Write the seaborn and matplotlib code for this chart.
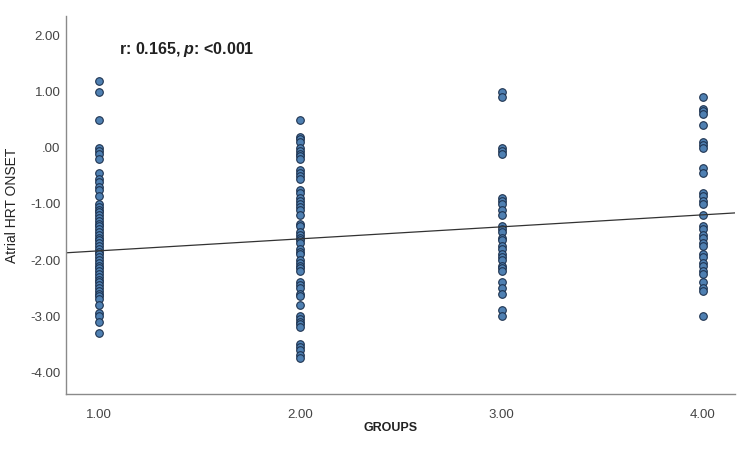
import numpy as np
import pandas as pd
import matplotlib
matplotlib.use('Agg')
import matplotlib.pyplot as plt
import seaborn as sns

# Values (Atrial HRT onset per group)
group1 = [1.2, 1.0, 0.5, 0.0, -0.05, -0.1, -0.2,
          -0.45, -0.55, -0.6, -0.7, -0.75, -0.85,
          -1.0, -1.05, -1.1, -1.15, -1.2, -1.25, -1.3, -1.35, -1.4, -1.45,
          -1.5, -1.55, -1.6, -1.65, -1.7, -1.75, -1.8, -1.85, -1.9, -1.95,
          -2.0, -2.05, -2.1, -2.15, -2.2, -2.25, -2.3, -2.35, -2.4, -2.45,
          -2.5, -2.55, -2.6, -2.65, -2.7, -2.8,
          -2.95, -3.0, -3.1, -3.3]
group2 = [0.5, 0.2, 0.15, 0.1, 0.0, -0.05, -0.1, -0.15, -0.2,
          -0.4, -0.45, -0.5, -0.55,
          -0.75, -0.8, -0.9, -0.95, -1.0, -1.05, -1.1, -1.2,
          -1.35, -1.4, -1.5, -1.55, -1.6, -1.65, -1.7, -1.8, -1.85, -1.9,
          -2.0, -2.05, -2.1, -2.15, -2.2,
          -2.4, -2.45, -2.5, -2.6, -2.65, -2.8,
          -3.0, -3.05, -3.1, -3.15, -3.2,
          -3.5, -3.55, -3.6, -3.7, -3.75]
group3 = [1.0, 0.9, 0.0, -0.05, -0.1,
          -0.9, -0.95, -1.0, -1.1, -1.2,
          -1.4, -1.45, -1.5, -1.6, -1.65, -1.75, -1.8, -1.9, -1.95, -2.0,
          -2.1, -2.15, -2.2, -2.4, -2.5, -2.6, -2.9, -3.0]
group4 = [0.9, 0.7, 0.65, 0.6, 0.4, 0.1, 0.05, 0.0, -0.35, -0.45,
          -0.8, -0.85, -0.95, -1.0, -1.2,
          -1.4, -1.45, -1.55, -1.6, -1.7, -1.75,
          -1.9, -1.95, -2.05, -2.1, -2.2, -2.25,
          -2.4, -2.5, -2.55, -3.0]

# fit line shown in the reference
fit_intercept = -2.05
fit_slope = 0.214
stats_text = 'r: 0.165, $\\mathit{p}$: <0.001'

groups = [1.0, 2.0, 3.0, 4.0]
df = pd.DataFrame({
    'GROUPS': np.concatenate([[g] * len(v) for g, v in zip(groups, [group1, group2, group3, group4])]),
    'Atrial HRT ONSET': np.concatenate([group1, group2, group3, group4]),
})

sns.set_style('white')
plt.rcParams['font.family'] = ['Liberation Sans', 'DejaVu Sans']
plt.rcParams['mathtext.fontset'] = 'custom'
plt.rcParams['mathtext.it'] = 'Liberation Sans:italic:bold'
plt.rcParams['mathtext.rm'] = 'Liberation Sans:bold'

fig = plt.figure(figsize=(7.5, 4.49), dpi=100)
ax = fig.add_axes([0.088, 0.1225, 0.892, 0.8415])

sns.scatterplot(data=df, x='GROUPS', y='Atrial HRT ONSET', ax=ax,
                s=30, color='#4f80b2', edgecolor='#1e3350', linewidth=0.8)

ax.set_xlim(0.835, 4.16)
ax.set_ylim(-4.39, 2.35)
ax.axline((0, fit_intercept), slope=fit_slope, color='#333333', linewidth=0.9, zorder=1)

ax.set_xticks(groups)
ax.set_xticklabels(['1.00', '2.00', '3.00', '4.00'])
yt = [2, 1, 0, -1, -2, -3, -4]
ax.set_yticks(yt)
ax.set_yticklabels(['2.00', '1.00', '.00', '-1.00', '-2.00', '-3.00', '-4.00'])
ax.tick_params(axis='both', length=0, labelsize=9.5, colors='#444444')
ax.tick_params(axis='x', pad=11)
ax.tick_params(axis='y', pad=4)

for side in ['top', 'right']:
    ax.spines[side].set_visible(False)
for side in ['left', 'bottom']:
    ax.spines[side].set_color('#8a8a8a')
    ax.spines[side].set_linewidth(1.0)

ax.set_xlabel('GROUPS', fontsize=9, fontweight='bold', color='#222222', labelpad=1)
ax.set_ylabel('Atrial HRT ONSET', fontsize=10, color='#222222', labelpad=8)
ax.xaxis.set_label_coords(0.485, -0.075)

ax.text(1.10, 1.76, stats_text, fontsize=11.5, fontweight='bold', color='#222222', va='center')

fig.savefig('out.png', dpi=100)
